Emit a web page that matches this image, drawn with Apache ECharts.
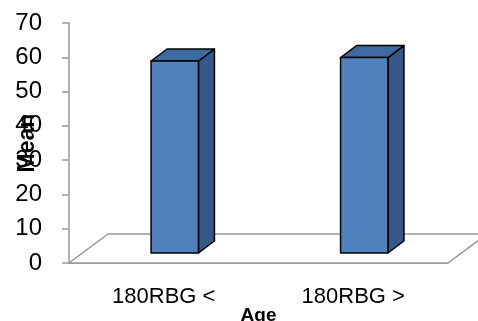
<!DOCTYPE html>
<html><head><meta charset="utf-8">
<script src="https://cdn.jsdelivr.net/npm/echarts@6/dist/echarts.min.js"></script>
<style>html,body{margin:0;padding:0;background:#fff}#c{width:478px;height:321px}</style>
</head><body><div id="c"></div>
<script>
const categories = ['180RBG <', '180RBG >'];
const meanValues = [56, 57];
const yTicks = [0, 10, 20, 30, 40, 50, 60, 70];

const chart = echarts.init(document.getElementById('c'));
const FRONT = [11, -10];   // bar front face offset from the axis front
const DEPTH = [16, -12];   // bar depth
const FLOOR = [39, -29];   // floor depth

chart.setOption({
  animation: false,
  grid: { left: 69, right: 30, top: 23, bottom: 58, containLabel: false, outerBoundsMode: 'none' },
  xAxis: {
    type: 'category', data: categories,
    name: 'Age', nameLocation: 'middle', nameGap: 43, nameMoveOverlap: false,
    nameTextStyle: { fontFamily: 'Liberation Sans', fontWeight: 'bold', fontSize: 19, color: '#000' },
    axisLine: { lineStyle: { color: '#999', width: 1.5 } },
    axisTick: { length: 5, lineStyle: { color: '#999', width: 1.5 } },
    axisLabel: { fontFamily: 'Liberation Sans', fontSize: 22, color: '#000', margin: 23 }
  },
  yAxis: {
    type: 'value', min: yTicks[0], max: yTicks[yTicks.length - 1], interval: 10,
    name: 'Mean', nameLocation: 'middle', nameRotate: 90, nameGap: 30, nameMoveOverlap: false,
    nameTextStyle: { fontFamily: 'Liberation Sans', fontWeight: 'bold', fontSize: 23, color: '#000' },
    axisLine: { show: true, lineStyle: { color: '#999', width: 1.5 } },
    axisTick: { show: true, length: 7, lineStyle: { color: '#999', width: 1.5 } },
    splitLine: { show: false },
    axisLabel: { fontFamily: 'Liberation Sans', fontSize: 24, color: '#000', margin: 27 }
  },
  series: [
    {
      type: 'custom', z: 1, silent: true,
      data: [[0]],
      renderItem: function (params, api) {
        const cs = params.coordSys;
        const fl = [cs.x, cs.y + cs.height], fr = [cs.x + cs.width, cs.y + cs.height];
        return {
          type: 'polygon',
          shape: { points: [fl, fr, [fr[0] + FLOOR[0], fr[1] + FLOOR[1]], [fl[0] + FLOOR[0], fl[1] + FLOOR[1]]] },
          style: { fill: '#fff', stroke: '#999', lineWidth: 1.5 }
        };
      }
    },
    {
      type: 'custom', z: 5,
      data: meanValues.map((v, i) => [i, v]),
      renderItem: function (params, api) {
        const base = api.coord([api.value(0), 0]);
        const top = api.coord([api.value(0), api.value(1)]);
        const bw = api.size([1, 0])[0] * 0.25;
        const x0 = base[0] + FRONT[0] - bw / 2, x1 = x0 + bw;
        const yb = base[1] + FRONT[1], yt = top[1] + FRONT[1];
        const st = { stroke: '#000', lineWidth: 1.5, lineJoin: 'round' };
        return {
          type: 'group',
          children: [
            { type: 'polygon', shape: { points: [[x1, yb], [x1 + DEPTH[0], yb + DEPTH[1]], [x1 + DEPTH[0], yt + DEPTH[1]], [x1, yt]] },
              style: Object.assign({ fill: '#355886' }, st) },
            { type: 'polygon', shape: { points: [[x0, yt], [x1, yt], [x1 + DEPTH[0], yt + DEPTH[1]], [x0 + DEPTH[0], yt + DEPTH[1]]] },
              style: Object.assign({ fill: '#3e6aa3' }, st) },
            { type: 'rect', shape: { x: x0, y: yt, width: bw, height: yb - yt },
              style: Object.assign({ fill: '#4f81bd' }, st) }
          ]
        };
      }
    }
  ]
});
</script></body></html>
